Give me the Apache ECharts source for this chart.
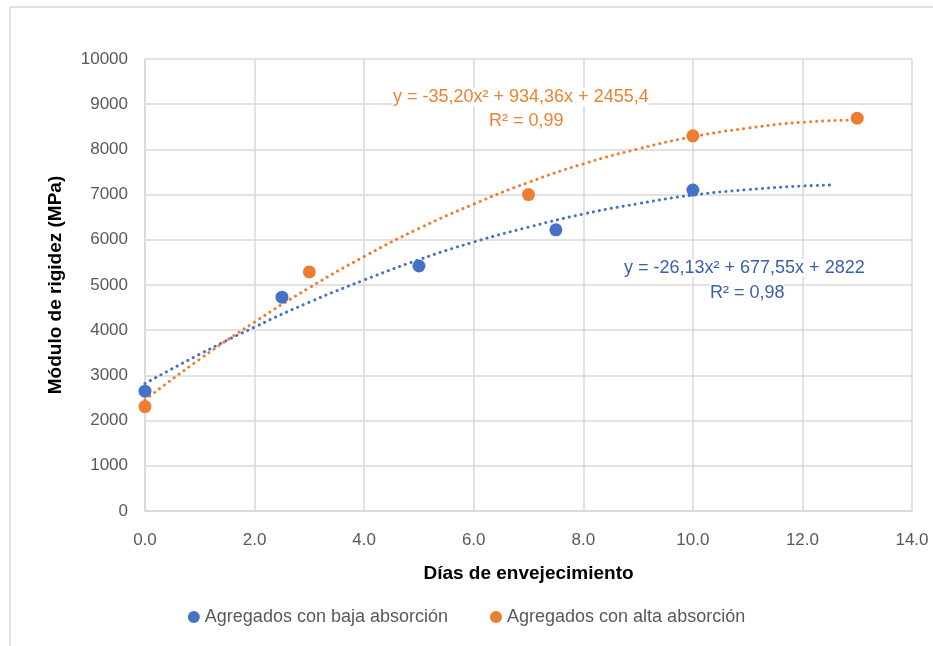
<!DOCTYPE html>
<html>
<head>
<meta charset="utf-8">
<script src="https://cdn.jsdelivr.net/npm/echarts@6/dist/echarts.min.js"></script>
<style>html,body{margin:0;padding:0;background:#fff}#c{width:933px;height:646px}</style>
</head>
<body>
<div id="c"></div>
<script>
// Data
const bajaX = [0, 2.5, 5, 7.5, 10];
const bajaY = [2650, 4730, 5420, 6220, 7100];
const altaX = [0, 3, 7, 10, 13];
const altaY = [2310, 5290, 7000, 8300, 8690];
// Trendline curves
const trendBajaX = [0, 1, 2, 3, 4, 5, 6, 7, 8, 9, 10, 11, 12, 12.5];
const trendBajaY = [2820, 3470, 4070, 4620, 5110, 5560, 5950, 6280, 6570, 6800, 6990, 7110, 7190, 7210];
const trendAltaX = [0, 1, 2, 3, 4, 5, 6, 7, 8, 9, 10, 11, 12, 13];
const trendAltaY = [2460, 3360, 4180, 4940, 5630, 6250, 6790, 7270, 7680, 8010, 8280, 8470, 8600, 8650];
const seriesNames = ['Agregados con baja absorción', 'Agregados con alta absorción'];
const eqBaja = ['y = -26,13x² + 677,55x + 2822', 'R² = 0,98'];
const eqAlta = ['y = -35,20x² + 934,36x + 2455,4', 'R² = 0,99'];

const zip = (a, b) => a.map((v, i) => [v, b[i]]);
const FONT = 'Liberation Sans';
const BLUE = '#4472C4', ORANGE = '#ED7D31';
const dotted = {width: 3, type: [0.1, 6], cap: 'round'};

const chart = echarts.init(document.getElementById('c'), null, {renderer: 'canvas'});
chart.setOption({
  animation: false,
  backgroundColor: '#fff',
  textStyle: {fontFamily: FONT},
  grid: {left: 145, right: 21, top: 59, bottom: 135},
  xAxis: {
    type: 'value', min: 0, max: 14, interval: 2,
    name: 'Días de envejecimiento', nameLocation: 'middle', nameGap: 53,
    nameTextStyle: {fontFamily: FONT, fontSize: 19, fontWeight: 'bold', color: '#000'},
    axisLine: {show: true, lineStyle: {color: '#d9d9d9', width: 1.5}},
    axisTick: {show: false},
    axisLabel: {formatter: v => v.toFixed(1), color: '#595959', fontSize: 17, margin: 21, fontFamily: FONT},
    splitLine: {show: true, lineStyle: {color: '#d9d9d9', width: 1.5}}
  },
  yAxis: {
    type: 'value', min: 0, max: 10000, interval: 1000,
    name: 'Módulo de rigidez (MPa)', nameLocation: 'middle', nameGap: 80,
    nameTextStyle: {fontFamily: FONT, fontSize: 19, fontWeight: 'bold', color: '#000'},
    axisLine: {show: true, lineStyle: {color: '#d9d9d9', width: 1.5}},
    axisTick: {show: false},
    axisLabel: {formatter: v => String(v), color: '#595959', fontSize: 17, margin: 17, fontFamily: FONT},
    splitLine: {show: true, lineStyle: {color: '#d9d9d9', width: 1.5}}
  },
  legend: {
    bottom: 15, left: 'center', itemGap: 42,
    icon: 'circle', itemWidth: 12, itemHeight: 12,
    textStyle: {color: '#595959', fontSize: 18, fontFamily: FONT},
    data: seriesNames
  },
  series: [
    {
      name: 'trend1', type: 'line', data: zip(trendBajaX, trendBajaY), smooth: true,
      showSymbol: false, symbol: 'none', silent: true,
      lineStyle: Object.assign({color: BLUE}, dotted), z: 1
    },
    {
      name: 'trend2', type: 'line', data: zip(trendAltaX, trendAltaY), smooth: true,
      showSymbol: false, symbol: 'none', silent: true,
      lineStyle: Object.assign({color: ORANGE}, dotted), z: 1
    },
    {
      name: seriesNames[0], type: 'scatter', data: zip(bajaX, bajaY),
      symbolSize: 13, itemStyle: {color: BLUE, opacity: 1}, z: 3
    },
    {
      name: seriesNames[1], type: 'scatter', data: zip(altaX, altaY),
      symbolSize: 13, itemStyle: {color: ORANGE, opacity: 1}, z: 3
    }
  ],
  graphic: [
    {type: 'line', shape: {x1: 10, y1: 7, x2: 933, y2: 7}, style: {stroke: '#d9d9d9', lineWidth: 1.5}},
    {type: 'line', shape: {x1: 10, y1: 7, x2: 10, y2: 646}, style: {stroke: '#d9d9d9', lineWidth: 1.5}},
    {type: 'text', left: 393, top: 88, z: 10,
      style: {text: eqAlta[0], fill: '#EE8233', font: '18px "Liberation Sans"', backgroundColor: '#fff'}},
    {type: 'text', left: 489, top: 112, z: 10,
      style: {text: eqAlta[1], fill: '#EE8233', font: '18px "Liberation Sans"', backgroundColor: '#fff'}},
    {type: 'text', left: 624, top: 259, z: 10,
      style: {text: eqBaja[0], fill: '#3A5FA8', font: '18px "Liberation Sans"', backgroundColor: '#fff'}},
    {type: 'text', left: 710, top: 284, z: 10,
      style: {text: eqBaja[1], fill: '#3A5FA8', font: '18px "Liberation Sans"', backgroundColor: '#fff'}}
  ]
});
</script>
</body>
</html>
